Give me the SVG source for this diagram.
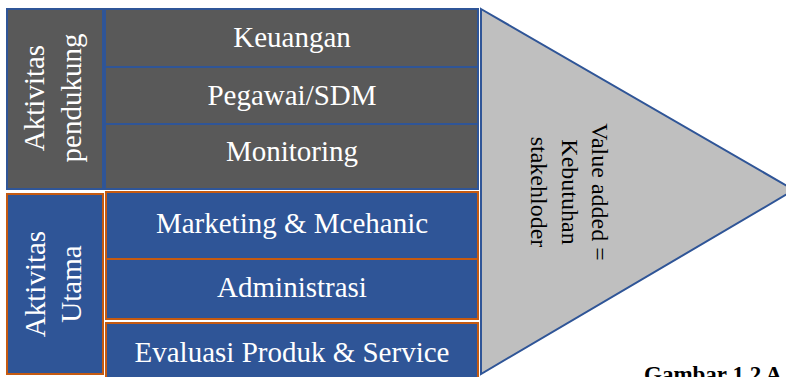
<svg xmlns="http://www.w3.org/2000/svg" width="786" height="377" viewBox="0 0 786 377">
<style>
.sup{fill:#595959;stroke:#2F5597;stroke-width:2}
.pri{fill:#2F5597;stroke:#C55A11;stroke-width:2}
.lbl{font-family:"Liberation Serif","Times New Roman",serif;font-size:29px;fill:#FFFFFF;text-anchor:middle}
.tri{font-family:"Liberation Serif","Times New Roman",serif;font-size:24px;fill:#000000;text-anchor:middle}
.cap{font-family:"Liberation Serif","Times New Roman",serif;font-size:23px;font-weight:bold;fill:#000000}
</style>
<rect x="0" y="0" width="786" height="377" fill="#FFFFFF"/>
<g id="value-added">
<polygon points="481,9 794,190 481,374" fill="#BFBFBF" stroke="#2F5597" stroke-width="2"/>
<text class="tri" transform="translate(592,192) rotate(90)"><tspan x="0" dy="0">Value added =</tspan><tspan x="0" dy="30.5">Kebutuhan</tspan><tspan x="0" dy="30.5">stakehloder</tspan></text>
</g>
<g id="aktivitas-pendukung">
<rect class="sup" x="7" y="9" width="96" height="180"/>
<text class="lbl" transform="translate(44,98) rotate(-90)"><tspan x="0" dy="0">Aktivitas</tspan><tspan x="0" dy="37">pendukung</tspan></text>
</g>
<g id="keuangan">
<rect class="sup" x="105" y="9" width="373" height="58"/>
<text class="lbl" x="292" y="47">Keuangan</text>
</g>
<g id="pegawai">
<rect class="sup" x="105" y="67" width="373" height="57"/>
<text class="lbl" x="292" y="105">Pegawai/SDM</text>
</g>
<g id="monitoring">
<rect class="sup" x="105" y="124" width="373" height="65"/>
<text class="lbl" x="292" y="161">Monitoring</text>
</g>
<g id="aktivitas-utama">
<rect class="pri" x="7" y="194" width="96" height="180"/>
<text class="lbl" transform="translate(45,284) rotate(-90)"><tspan x="0" dy="0">Aktivitas</tspan><tspan x="0" dy="36">Utama</tspan></text>
</g>
<g id="marketing">
<rect class="pri" x="106" y="192" width="372" height="67"/>
<text class="lbl" x="292" y="233">Marketing &amp; Mcehanic</text>
</g>
<g id="administrasi">
<rect class="pri" x="106" y="259" width="372" height="60"/>
<text class="lbl" x="292" y="297">Administrasi</text>
</g>
<g id="evaluasi">
<rect class="pri" x="106" y="323" width="372" height="62"/>
<text class="lbl" x="292" y="362">Evaluasi Produk &amp; Service</text>
</g>
<g id="connectors"></g>
<text class="cap" x="644" y="382">Gambar 1.2 A</text>
</svg>
